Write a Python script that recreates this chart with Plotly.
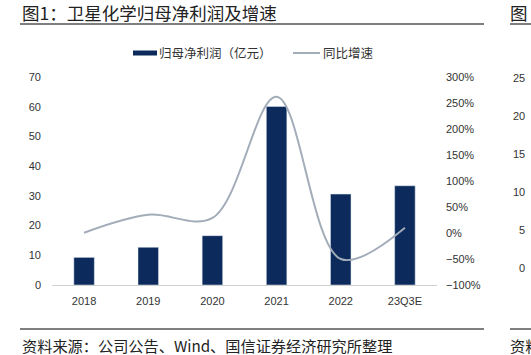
import plotly.graph_objects as go

categories = ["2018", "2019", "2020", "2021", "2022", "23Q3E"]
net_profit = [9.3, 12.7, 16.6, 60.1, 30.6, 33.4]
yoy_growth = [0.5, 35, 29, 262, -50, 10]
left_ticks = [0, 10, 20, 30, 40, 50, 60, 70]
right_ticks = [-100, -50, 0, 50, 100, 150, 200, 250, 300]
right_tick_labels = ["−100%", "−50%", "0%", "50%", "100%", "150%", "200%", "250%", "300%"]
partial_ticks = ["25", "20", "15", "10", "5", "0"]

W, H = 531, 355
L, R, T, B = 52, 94, 77, 70
PW, PH = W - L - R, H - T - B

def px(x):
    return (x - L) / PW

def py(y):
    return (H - B - y) / PH

NAVY = "#0c2b5c"
GREY = "#a3adba"
TXT = "#333333"
CJK = "Noto Sans CJK SC"

fig = go.Figure()
fig.add_trace(go.Bar(x=categories, y=net_profit, marker_color=NAVY, width=0.32,
                     name="归母净利润（亿元）", yaxis="y"))
fig.add_trace(go.Scatter(x=categories, y=yoy_growth, mode="lines", yaxis="y2",
                         line=dict(color=GREY, width=2, shape="spline", smoothing=1.0),
                         name="同比增速"))

fig.update_layout(
    width=W, height=H, margin=dict(l=L, r=R, t=T, b=B),
    paper_bgcolor="white", plot_bgcolor="white", showlegend=False,
    font=dict(family="Liberation Sans, Arial", size=11, color=TXT),
    xaxis=dict(type="category", showline=True, linecolor="#d0d0d0", linewidth=1,
               ticks="", showgrid=False, tickfont=dict(size=11, color=TXT),
               ticklabelstandoff=6),
    yaxis=dict(range=[0, 70], tickvals=left_ticks, showgrid=False, zeroline=False,
               showline=False, ticks="", tickfont=dict(size=11, color=TXT),
               ticklabelstandoff=10),
    yaxis2=dict(range=[-100, 300], tickvals=right_ticks, ticktext=right_tick_labels,
                overlaying="y", side="right", showgrid=False, zeroline=False,
                showline=False, ticks="", tickfont=dict(size=11, color=TXT),
                ticklabelstandoff=8),
)

shapes = [
    dict(type="line", xref="paper", yref="paper", x0=px(20), x1=px(484), y0=py(24), y1=py(24),
         line=dict(color="#555555", width=1.5)),
    dict(type="line", xref="paper", yref="paper", x0=px(20), x1=px(484), y0=py(329), y1=py(329),
         line=dict(color="#555555", width=1.5)),
    dict(type="line", xref="paper", yref="paper", x0=px(510), x1=px(531), y0=py(24), y1=py(24),
         line=dict(color="#555555", width=1.5)),
    dict(type="line", xref="paper", yref="paper", x0=px(510), x1=px(531), y0=py(329), y1=py(329),
         line=dict(color="#555555", width=1.5)),
    dict(type="rect", xref="paper", yref="paper", x0=px(133), x1=px(157), y0=py(55.5), y1=py(50.5),
         fillcolor=NAVY, line=dict(width=0)),
    dict(type="line", xref="paper", yref="paper", x0=px(293), x1=px(320), y0=py(53), y1=py(53),
         line=dict(color=GREY, width=2)),
]
fig.update_layout(shapes=shapes)

def ann(text, x, y, size, xanchor="left", color="#222222", family=CJK):
    fig.add_annotation(text=text, x=px(x), y=py(y), xref="paper", yref="paper",
                       xanchor=xanchor, yanchor="middle", showarrow=False,
                       font=dict(family=family, size=size, color=color))

ann("图1：卫星化学归母净利润及增速", 20, 12.5, 17.5)
ann("归母净利润（亿元）", 157, 53, 12.5, color=TXT)
ann("同比增速", 321, 53, 12.5, color=TXT)
ann("资料来源：公司公告、Wind、国信证券经济研究所整理", 20, 344.5, 15.2)
ann("图", 508, 12.5, 17.5)
ann("资料", 508, 344.5, 15.2)
for i, t in enumerate(partial_ticks):
    ann(t, 527, 78 + 38 * i, 11, xanchor="right", color=TXT, family="Liberation Sans, Arial")

fig.write_html("out.html", config={"displayModeBar": False},
               post_script="document.body.style.margin='0';document.body.style.overflow='hidden';")
